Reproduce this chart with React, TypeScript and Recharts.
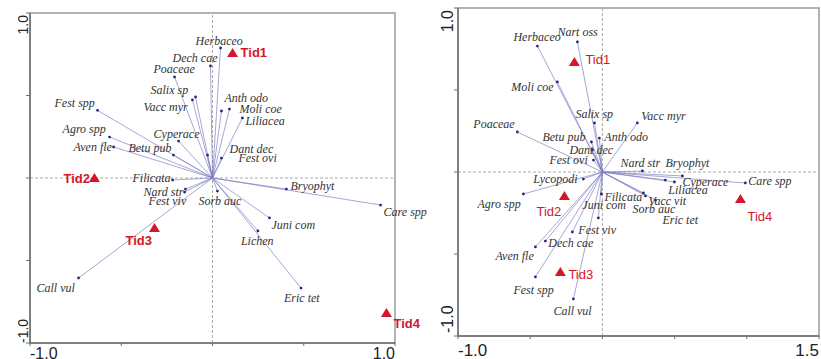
import { ScatterChart, Scatter, XAxis, YAxis, ReferenceLine, ReferenceArea } from 'recharts';

// ---- left biplot (axis 1 vs axis 2) ----
const leftSpecies = [
  'Fest spp', 'Agro spp', 'Aven fle', 'Betu pub', 'Cyperace', 'Vacc myr', 'Salix sp', 'Poaceae',
  'Dech cae', 'Herbaceo', 'Anth odo', 'Moli coe', 'Liliacea', 'Dant dec', 'Fest ovi', 'Filicata',
  'Nard str', 'Fest viv', 'Sorb auc', 'Call vul', 'Bryophyt', 'Care spp', 'Juni com', 'Lichen', 'Eric tet',
];
const leftSpX = [
  -0.63, -0.564, -0.542, -0.214, -0.186, -0.11, -0.093, -0.208,
  -0.011, 0.044, 0.049, 0.093, 0.164, -0.027, 0.049, -0.219,
  -0.148, -0.153, 0.027, -0.734, 0.405, 0.921, 0.312, 0.249, 0.485,
];
const leftSpY = [
  0.41, 0.248, 0.188, 0.139, 0.224, 0.473, 0.491, 0.612,
  0.679, 0.788, 0.406, 0.418, 0.364, 0.139, 0.121, -0.012,
  -0.067, -0.085, -0.079, -0.606, -0.067, -0.164, -0.242, -0.321, -0.667,
];
const leftSites = ['Tid1', 'Tid2', 'Tid3', 'Tid4'];
const leftSiteX = [0.11, -0.647, -0.318, 0.953];
const leftSiteY = [0.758, 0, -0.303, -0.818];

// ---- right biplot ----
const rightSpecies = [
  'Herbaceo', 'Nart oss', 'Moli coe', 'Salix sp', 'Poaceae', 'Betu pub', 'Anth odo', 'Dant dec',
  'Fest ovi', 'Vacc myr', 'Lycopodi', 'Nard str', 'Bryophyt', 'Cyperace', 'Liliacea', 'Care spp',
  'Vacc vit', 'Sorb auc', 'Eric tet', 'Filicata', 'Juni com', 'Fest viv', 'Dech cae', 'Aven fle',
  'Agro spp', 'Fest spp', 'Call vul',
];
const rightSpX = [
  -0.45, -0.173, -0.312, -0.055, -0.589, -0.076, -0.021, -0.069,
  -0.062, 0.242, -0.132, 0.277, 0.554, 0.499, 0.436, 0.99,
  0.284, 0.298, 0.367, -0.007, -0.028, -0.208, -0.395, -0.464,
  -0.547, -0.464, -0.201,
];
const rightSpY = [
  0.768, 0.793, 0.549, 0.299, 0.244, 0.183, 0.207, 0.134,
  0.073, 0.299, -0.043, 0.006, -0.024, -0.061, -0.049, -0.067,
  -0.128, -0.146, -0.171, -0.134, -0.28, -0.366, -0.421, -0.457,
  -0.134, -0.64, -0.774,
];
const rightSites = ['Tid1', 'Tid2', 'Tid3', 'Tid4'];
const rightSiteX = [-0.194, -0.263, -0.291, 0.956];
const rightSiteY = [0.671, -0.146, -0.61, -0.165];

// label placement (pixels from the arrow tip / triangle)
const leftLabelPos: Record<string, [number, number]> = {
  'Fest spp': [-43, -7], 'Agro spp': [-47, -8], 'Aven fle': [-40, 0], 'Betu pub': [-45, -7],
  'Cyperace': [-25, -7], 'Vacc myr': [-49, 7], 'Salix sp': [-45, -7], 'Poaceae': [-21, -8],
  'Dech cae': [-38, -8], 'Herbaceo': [-25, -7], 'Anth odo': [3, -13], 'Moli coe': [10, 0],
  'Liliacea': [3, 3], 'Dant dec': [22, -6], 'Fest ovi': [17, 0], 'Filicata': [-40, -2],
  'Nard str': [-42, 3], 'Fest viv': [-36, 9], 'Sorb auc': [-19, 10], 'Call vul': [-42, 10],
  'Bryophyt': [4, -3], 'Care spp': [3, 7], 'Juni com': [2, 7], 'Lichen': [-17, 10], 'Eric tet': [-17, 10],
};
const leftSitePos: Record<string, [number, number]> = {
  Tid1: [8, 0], Tid2: [-31, 0], Tid3: [-29, 13], Tid4: [7, 11],
};
const rightLabelPos: Record<string, [number, number]> = {
  'Herbaceo': [-24, -9], 'Nart oss': [-20, -10], 'Moli coe': [-46, 5], 'Salix sp': [-19, -9],
  'Poaceae': [-44, -8], 'Betu pub': [-49, -5], 'Anth odo': [5, -1], 'Dant dec': [-23, 0],
  'Fest ovi': [-44, 0], 'Vacc myr': [4, -7], 'Lycopodi': [-50, 0], 'Nard str': [-22, -8],
  'Bryophyt': [-17, -13], 'Cyperace': [8, 0], 'Liliacea': [3, 10], 'Care spp': [3, -2],
  'Vacc vit': [5, 8], 'Sorb auc': [-13, 13], 'Eric tet': [7, 20], 'Filicata': [3, 3],
  'Juni com': [-16, -13], 'Fest viv': [6, -2], 'Dech cae': [3, 2], 'Aven fle': [-40, 9],
  'Agro spp': [-46, 10], 'Fest spp': [-22, 13], 'Call vul': [-20, 12],
};
const rightSitePos: Record<string, [number, number]> = {
  Tid1: [11, -2], Tid2: [-28, 16], Tid3: [8, 2], Tid4: [7, 17],
};

const AXIS = '#6e6e6e';
const SITE_RED = '#d4162a';

function zip(names: string[], xs: number[], ys: number[]) {
  return names.map((name, i) => ({ name, x: xs[i], y: ys[i] }));
}

function Biplot(props: any) {
  const {
    left, width, height, margin, yAxisWidth, xAxisHeight, xDomain, xTicks,
    species, sites, labelPos, sitePos, siteBold, xFont, yFont, xDy, yDx, yTopDy, yBotDy,
  } = props;

  const xTick = (p: any) => {
    const v = p.payload.value;
    if (v !== xDomain[0] && v !== xDomain[1]) return <g />;
    return (
      <text x={p.x} y={p.y + xDy} textAnchor={v === xDomain[0] ? 'start' : 'end'}
        fontFamily="Liberation Sans, Arial, sans-serif" fontSize={xFont} fill="#222">
        {v.toFixed(1)}
      </text>
    );
  };
  const yTick = (p: any) => {
    const v = p.payload.value;
    if (v !== -1 && v !== 1) return <g />;
    const bx = p.x + yDx;
    const by = v === 1 ? p.y + yTopDy : p.y + yBotDy;
    return (
      <text x={bx} y={by} transform={`rotate(-90, ${bx}, ${by})`} textAnchor={v === 1 ? 'end' : 'start'}
        fontFamily="Liberation Sans, Arial, sans-serif" fontSize={yFont} fill="#222">
        {v.toFixed(1)}
      </text>
    );
  };

  const speciesShape = (p: any) => {
    const off = labelPos[p.payload.name] || [3, 0];
    return (
      <g>
        <circle cx={p.cx} cy={p.cy} r={1.4} fill="#26267a" />
        <text x={p.cx + off[0]} y={p.cy + off[1]} dominantBaseline="central"
          fontFamily="Liberation Serif, Times New Roman, serif" fontStyle="italic" fontSize={12} fill="#333">
          {p.payload.name}
        </text>
      </g>
    );
  };
  const siteShape = (p: any) => {
    const off = sitePos[p.payload.name] || [8, 0];
    return (
      <g>
        <polygon points={`${p.cx},${p.cy - 5} ${p.cx + 5.5},${p.cy + 4} ${p.cx - 5.5},${p.cy + 4}`} fill={SITE_RED} />
        <text x={p.cx + off[0]} y={p.cy + off[1]} dominantBaseline="central"
          fontFamily="Liberation Sans, Arial, sans-serif" fontWeight={siteBold ? 'bold' : 'normal'}
          fontSize={13} fill={SITE_RED}>
          {p.payload.name}
        </text>
      </g>
    );
  };

  return (
    <div style={{ position: 'absolute', left, top: 0 }}>
      <ScatterChart width={width} height={height} margin={margin}>
        <ReferenceArea x1={xDomain[0]} x2={xDomain[1]} y1={-1} y2={1} fill="none" stroke="#9a9a9a" strokeWidth={1.5} />
        <ReferenceLine x={0} stroke="#aaa" strokeDasharray="3 2" />
        <ReferenceLine y={0} stroke="#aaa" strokeDasharray="3 2" />
        {species.map((s: any) => (
          <ReferenceLine key={s.name} segment={[{ x: 0, y: 0 }, { x: s.x, y: s.y }]}
            stroke="#7c7cc0" strokeWidth={0.8} strokeOpacity={0.85} />
        ))}
        <XAxis type="number" dataKey="x" domain={xDomain} ticks={xTicks}
          height={xAxisHeight} axisLine={{ stroke: AXIS, strokeWidth: 1.5 }} tickLine={{ stroke: AXIS }}
          tickSize={3} tick={xTick} interval={0} />
        <YAxis type="number" dataKey="y" domain={[-1, 1]} ticks={[-1, -0.5, 0, 0.5, 1]}
          width={yAxisWidth} axisLine={{ stroke: AXIS, strokeWidth: 1.5 }} tickLine={{ stroke: AXIS }}
          tickSize={4} tick={yTick} interval={0} />
        <Scatter data={species} shape={speciesShape} isAnimationActive={false} />
        <Scatter data={sites} shape={siteShape} isAnimationActive={false} />
      </ScatterChart>
    </div>
  );
}

export default function App() {
  return (
    <div style={{ position: 'absolute', left: 0, top: 0, width: 821, height: 359, background: '#fff' }}>
      <style>{'.recharts-wrapper, .recharts-wrapper svg { overflow: visible !important; }'}</style>
      <Biplot
        left={0} width={410} height={359}
        margin={{ top: 13, right: 15, bottom: 0, left: 0 }}
        yAxisWidth={30} xAxisHeight={16}
        xDomain={[-1, 1]} xTicks={[-1, -0.5, 0, 0.5, 1]}
        species={zip(leftSpecies, leftSpX, leftSpY)}
        sites={zip(leftSites, leftSiteX, leftSiteY)}
        labelPos={leftLabelPos} sitePos={leftSitePos} siteBold
        xFont={16} yFont={14} xDy={11} yDx={4} yTopDy={2} yBotDy={0}
      />
      <Biplot
        left={410} width={411} height={359}
        margin={{ top: 8, right: 2, bottom: 0, left: 0 }}
        yAxisWidth={48} xAxisHeight={23}
        xDomain={[-1, 1.5]} xTicks={[-1, -0.5, 0, 0.5, 1, 1.5]}
        species={zip(rightSpecies, rightSpX, rightSpY)}
        sites={zip(rightSites, rightSiteX, rightSiteY)}
        labelPos={rightLabelPos} sitePos={rightSitePos} siteBold={false}
        xFont={17} yFont={16} xDy={15} yDx={1} yTopDy={2} yBotDy={-3}
      />
    </div>
  );
}
